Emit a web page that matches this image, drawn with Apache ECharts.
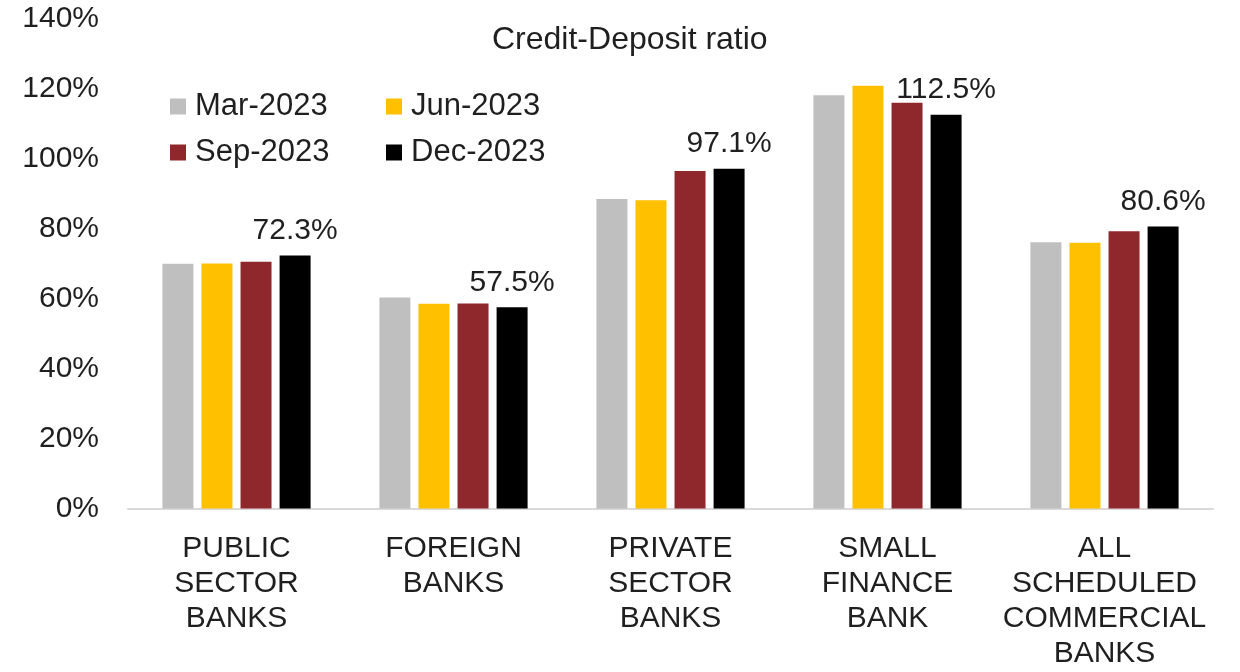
<!DOCTYPE html>
<html>
<head>
<meta charset="utf-8">
<script src="https://cdn.jsdelivr.net/npm/echarts@6/dist/echarts.min.js"></script>
<style>
  html, body { margin: 0; padding: 0; background: #ffffff; }
  #chart { width: 1240px; height: 672px; }
</style>
</head>
<body>
<div id="chart"></div>
<script>
// Bank groups shown along the x axis
const categories = [
  'PUBLIC\nSECTOR\nBANKS',
  'FOREIGN\nBANKS',
  'PRIVATE\nSECTOR\nBANKS',
  'SMALL\nFINANCE\nBANK',
  'ALL\nSCHEDULED\nCOMMERCIAL\nBANKS'
];

// Credit-deposit ratio (%) by quarter end
const mar2023 = [69.9, 60.3, 88.4, 118.1, 76.1];
const jun2023 = [70.0, 58.5, 88.1, 120.8, 75.9];
const sep2023 = [70.5, 58.6, 96.4, 115.9, 79.2];
const dec2023 = [72.3, 57.5, 97.1, 112.5, 80.6];

const seriesNames = ['Mar-2023', 'Jun-2023', 'Sep-2023', 'Dec-2023'];
const seriesColors = ['#BFBFBF', '#FFC000', '#8F282C', '#000000'];

const FONT = '"Liberation Sans", Arial, sans-serif';
const TEXT = '#1f1f1f';

const chart = echarts.init(document.getElementById('chart'), null, { renderer: 'canvas' });

function barSeries(i, data, withLabel) {
  return {
    name: seriesNames[i],
    type: 'bar',
    data: data,
    barWidth: 31,
    barGap: '26%',
    itemStyle: { color: seriesColors[i] },
    label: withLabel ? {
      show: true,
      position: 'top',
      distance: 10,
      formatter: '{c}%',
      fontFamily: FONT,
      fontSize: 30,
      color: TEXT
    } : { show: false }
  };
}

const legendText = { fontFamily: FONT, fontSize: 31, color: TEXT, lineHeight: 30, padding: [0, 0, 0, 4] };

chart.setOption({
  animation: false,
  backgroundColor: '#ffffff',
  title: {
    text: 'Credit-Deposit ratio',
    left: 487,
    top: 19,
    textStyle: { fontFamily: FONT, fontSize: 32, fontWeight: 'normal', color: TEXT }
  },
  legend: [
    {
      data: ['Mar-2023', 'Sep-2023'],
      orient: 'vertical',
      left: 165,
      top: 86,
      itemWidth: 16,
      itemHeight: 16,
      itemGap: 15,
      icon: 'rect',
      textStyle: legendText,
      selectedMode: false
    },
    {
      data: ['Jun-2023', 'Dec-2023'],
      orient: 'vertical',
      left: 381,
      top: 86,
      itemWidth: 16,
      itemHeight: 16,
      itemGap: 15,
      icon: 'rect',
      textStyle: legendText,
      selectedMode: false
    }
  ],
  grid: {
    left: 128,
    right: 27,
    top: 18.5,
    bottom: 163.5,
    containLabel: false
  },
  xAxis: {
    type: 'category',
    data: categories,
    axisLine: { show: true, lineStyle: { color: '#D9D9D9', width: 2 } },
    axisTick: { show: false },
    axisLabel: {
      interval: 0,
      margin: 23,
      fontFamily: FONT,
      fontSize: 30,
      lineHeight: 35,
      color: TEXT,
      align: 'center'
    }
  },
  yAxis: {
    type: 'value',
    min: 0,
    max: 140,
    interval: 20,
    axisLine: { show: false },
    axisTick: { show: false },
    splitLine: { show: false },
    axisLabel: {
      margin: 29,
      formatter: '{value}%',
      fontFamily: FONT,
      fontSize: 30,
      color: TEXT
    }
  },
  series: [
    barSeries(0, mar2023, false),
    barSeries(1, jun2023, false),
    barSeries(2, sep2023, false),
    barSeries(3, dec2023, true)
  ]
});
</script>
</body>
</html>
